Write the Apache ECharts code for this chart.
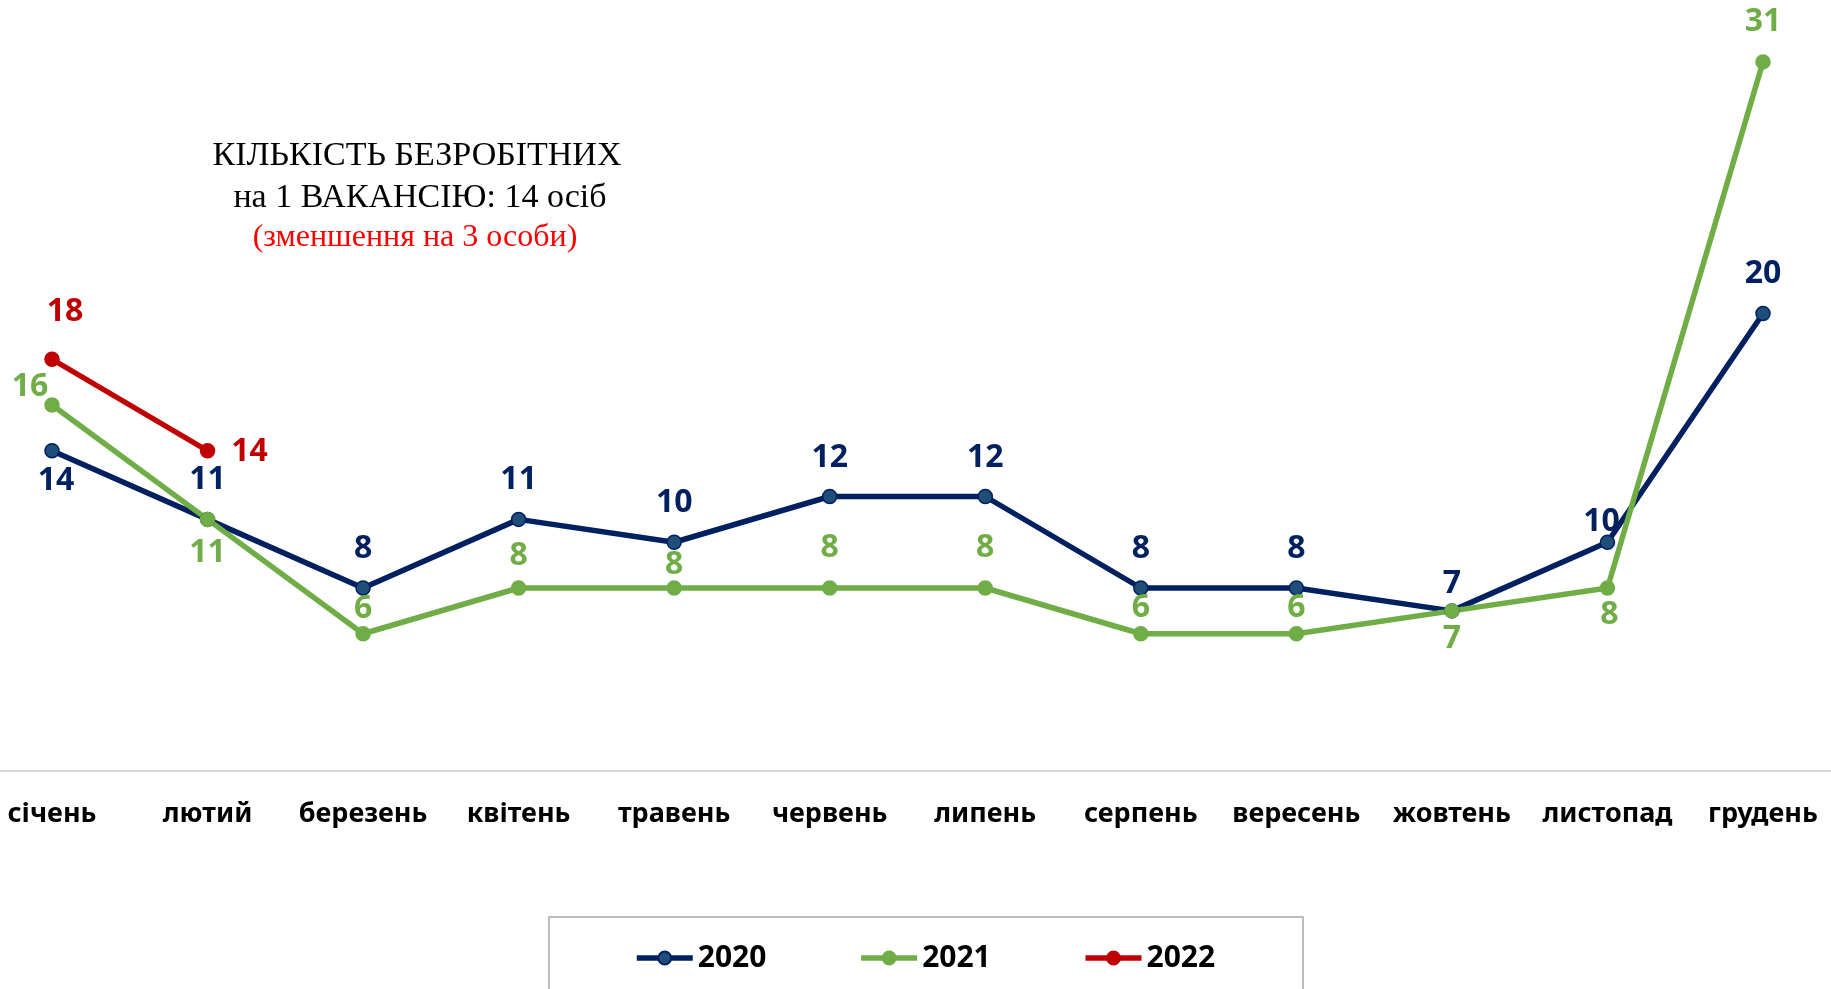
<!DOCTYPE html>
<html>
<head>
<meta charset="utf-8">
<title>Кількість безробітних на 1 вакансію</title>
<script src="https://cdn.jsdelivr.net/npm/echarts@6/dist/echarts.min.js"></script>
<style>
  html, body { margin: 0; padding: 0; background: #fff; }
  #chart { width: 1831px; height: 989px; }
</style>
</head>
<body>
<div id="chart"></div>
<script>
// дані
const months = ['січень', 'лютий', 'березень', 'квітень', 'травень', 'червень',
  'липень', 'серпень', 'вересень', 'жовтень', 'листопад', 'грудень']
const years = ['2020', '2021', '2022']
const values2020 = [14, 11, 8, 11, 10, 12, 12, 8, 8, 7, 10, 20]
const values2021 = [16, 11, 6, 8, 8, 8, 8, 6, 6, 7, 8, 31]
const values2022 = [18, 14]

// зсув підписів відносно точки (px)
const shift2020 = [[4, 30], [0, -39], [0, -39], [0, -39], [0, -39], [0, -39],
  [0, -39], [0, -39], [0, -39], [0, -27], [-6, -20], [0, -40]]
const shift2021 = [[-22, -18], [0, 34], [0, -25], [0, -32], [0, -23], [0, -40],
  [0, -40], [0, -26], [0, -26], [0, 28], [2, 27], [0, -40]]
const shift2022 = [[13, -47], [42, 1]]

const FONT = "'Noto Sans', 'Open Sans', sans-serif"
const SERIF = "'Liberation Serif', 'DejaVu Serif', serif"

function withLabels(values, shifts) {
  return values.map((v, i) => ({
    value: v,
    label: { offset: shifts[i] }
  }))
}

function makeSeries(name, values, shifts, color, fill, border) {
  return {
    name: name,
    type: 'line',
    data: withLabels(values, shifts),
    symbol: 'circle',
    symbolSize: 14,
    lineStyle: { color: color, width: 5.5 },
    itemStyle: { color: fill, borderColor: border, borderWidth: 1.5 },
    label: {
      show: true,
      position: 'inside',
      color: color,
      fontFamily: FONT,
      fontWeight: 'bold',
      fontSize: 32
    },
    emphasis: { disabled: true },
    z: 3
  }
}

const chart = echarts.init(document.getElementById('chart'))

const option = {
  animation: false,
  backgroundColor: '#fff',
  grid: {
    left: 52,
    right: 68,
    top: 39,
    bottom: 218,
    containLabel: false
  },
  xAxis: {
    type: 'category',
    data: months,
    boundaryGap: false,
    axisTick: { show: false },
    axisLine: { show: false },
    axisLabel: {
      color: '#000',
      fontFamily: FONT,
      fontWeight: 'bold',
      fontSize: 27,
      margin: 30,
      interval: 0
    }
  },
  yAxis: {
    type: 'value',
    min: 0,
    max: 32,
    show: false,
    splitLine: { show: false }
  },
  legend: {
    data: years,
    left: 629,
    top: 938,
    itemWidth: 56,
    itemHeight: 16,
    itemGap: 92,
    lineStyle: { width: 5.5 },
    textStyle: {
      color: '#000',
      fontFamily: FONT,
      fontWeight: 'bold',
      fontSize: 30
    }
  },
  graphic: [
    {
      type: 'rect',
      shape: { x: 549, y: 917, width: 754, height: 120 },
      style: { fill: 'none', stroke: '#A6A6A6', lineWidth: 1.5 },
      silent: true
    },
    {
      type: 'text',
      x: 417, y: 156,
      style: {
        text: 'КІЛЬКІСТЬ БЕЗРОБІТНИХ',
        font: '34px ' + SERIF,
        fill: '#000',
        align: 'center',
        verticalAlign: 'middle'
      }
    },
    {
      type: 'text',
      x: 420, y: 198,
      style: {
        text: 'на 1 ВАКАНСІЮ: 14 осіб',
        font: '34px ' + SERIF,
        fill: '#000',
        align: 'center',
        verticalAlign: 'middle'
      }
    },
    {
      type: 'text',
      x: 415, y: 238,
      style: {
        text: '(зменшення на 3 особи)',
        font: '32px ' + SERIF,
        fill: '#FF0000',
        align: 'center',
        verticalAlign: 'middle'
      }
    }
  ],
  series: [
    makeSeries(years[0], values2020, shift2020, '#002060', '#1F4E79', '#002060'),
    makeSeries(years[1], values2021, shift2021, '#70AD47', '#70AD47', '#70AD47'),
    makeSeries(years[2], values2022, shift2022, '#C00000', '#C00000', '#C00000')
  ]
}

chart.setOption(option)

// лінія осі X на всю ширину, на рівні нуля
const axisY = chart.convertToPixel({ yAxisIndex: 0 }, 0)
chart.setOption({
  graphic: option.graphic.concat([{
    type: 'line',
    shape: { x1: 0, y1: axisY, x2: 1831, y2: axisY },
    style: { stroke: '#D9D9D9', lineWidth: 2 },
    silent: true,
    z: 0
  }])
})
</script>
</body>
</html>
